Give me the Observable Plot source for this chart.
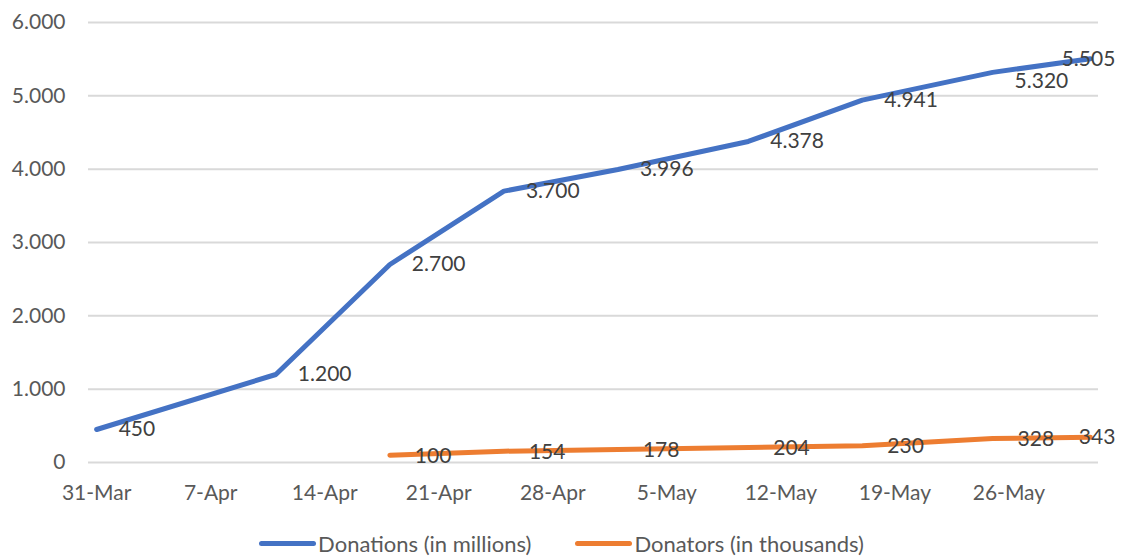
<!DOCTYPE html>
<html>
<head>
<meta charset="utf-8">
<script src="https://cdn.jsdelivr.net/npm/d3@7"></script>
<script src="https://cdn.jsdelivr.net/npm/@observablehq/plot@0.6"></script>
<style>
  html, body { margin: 0; padding: 0; background: #fff; }
  #chart { width: 1123px; }
  .legend { display: flex; justify-content: center; align-items: center; height: 30px;
    font-family: Lato, "Open Sans", sans-serif; font-size: 22px; color: #595959; gap: 44px; }
  .legend .item { display: flex; align-items: center; }
  .legend .sw { width: 57px; height: 5px; border-radius: 3px; margin-right: 2px; }
</style>
</head>
<body>
<div id="chart"></div>
<script>
// ---- data ----
const donationDates = ["2020-03-31","2020-04-11","2020-04-18","2020-04-25","2020-05-02","2020-05-10","2020-05-17","2020-05-25","2020-05-31"];
const donations = [450, 1200, 2700, 3700, 3996, 4378, 4941, 5320, 5505];
const donatorDates = ["2020-04-18","2020-04-25","2020-05-02","2020-05-10","2020-05-17","2020-05-25","2020-05-31"];
const donators = [100, 154, 178, 204, 230, 328, 343];
const tickDates = ["2020-03-31","2020-04-07","2020-04-14","2020-04-21","2020-04-28","2020-05-05","2020-05-12","2020-05-19","2020-05-26"];
const yTicks = [0, 1000, 2000, 3000, 4000, 5000, 6000];
const seriesNames = ["Donations (in millions)", "Donators (in thousands)"];
const seriesColors = ["#4472C4", "#ED7D31"];

const parse = s => new Date(s + "T00:00:00Z");
const blue = donationDates.map((d, i) => ({date: parse(d), value: donations[i]}));
const orange = donatorDates.map((d, i) => ({date: parse(d), value: donators[i]}));
const loc = d3.formatLocale({decimal: ",", thousands: ".", grouping: [3], currency: ["", ""]});
const fmt = loc.format(",d");
const xDomain = [new Date(Date.UTC(2020, 2, 30, 12)), new Date(Date.UTC(2020, 4, 31, 12))];

const labelStyle = {fill: "#404040", fontSize: 21, stroke: null};

const chart = Plot.plot({
  width: 1123,
  height: 528,
  marginTop: 22,
  marginBottom: 66,
  marginLeft: 88,
  marginRight: 25,
  style: {fontFamily: "Lato, 'Open Sans', sans-serif", fontSize: "21px", color: "#595959", background: "#fff", overflow: "visible"},
  x: {type: "utc", domain: xDomain},
  y: {domain: [0, 6000]},
  marks: [
    Plot.gridY(yTicks, {stroke: "#d9d9d9", strokeOpacity: 1, strokeWidth: 2}),
    Plot.axisY({ticks: yTicks, tickFormat: fmt, tickSize: 0, tickPadding: 23, label: null, fill: "#595959"}),
    Plot.axisX({ticks: tickDates.map(parse), tickFormat: d3.utcFormat("%-d-%b"), tickSize: 0, tickPadding: 23, label: null, fill: "#595959"}),
    Plot.line(blue, {x: "date", y: "value", stroke: seriesColors[0], strokeWidth: 5, strokeLinecap: "round", strokeLinejoin: "round"}),
    Plot.line(orange, {x: "date", y: "value", stroke: seriesColors[1], strokeWidth: 5, strokeLinecap: "round", strokeLinejoin: "round"}),
    Plot.text(blue.slice(0, -2), {x: "date", y: "value", text: d => fmt(d.value), textAnchor: "start", dx: 22, ...labelStyle}),
    Plot.text(blue.slice(-2, -1), {x: "date", y: "value", text: d => fmt(d.value), textAnchor: "start", dx: 22, dy: 9, ...labelStyle}),
    Plot.text(blue.slice(-1), {x: "date", y: "value", text: d => fmt(d.value), textAnchor: "end", dx: 25, ...labelStyle}),
    Plot.text(orange.slice(0, -1), {x: "date", y: "value", text: d => fmt(d.value), textAnchor: "start", dx: 25, dy: 1, ...labelStyle}),
    Plot.text(orange.slice(-1), {x: "date", y: "value", text: d => fmt(d.value), textAnchor: "end", dx: 25, ...labelStyle})
  ]
});
document.getElementById("chart").appendChild(chart);

const legend = document.createElement("div");
legend.className = "legend";
seriesNames.forEach((name, i) => {
  const item = document.createElement("div");
  item.className = "item";
  const sw = document.createElement("span");
  sw.className = "sw";
  sw.style.background = seriesColors[i];
  const t = document.createElement("span");
  t.textContent = name;
  item.appendChild(sw);
  item.appendChild(t);
  legend.appendChild(item);
});
document.getElementById("chart").appendChild(legend);
</script>
</body>
</html>
